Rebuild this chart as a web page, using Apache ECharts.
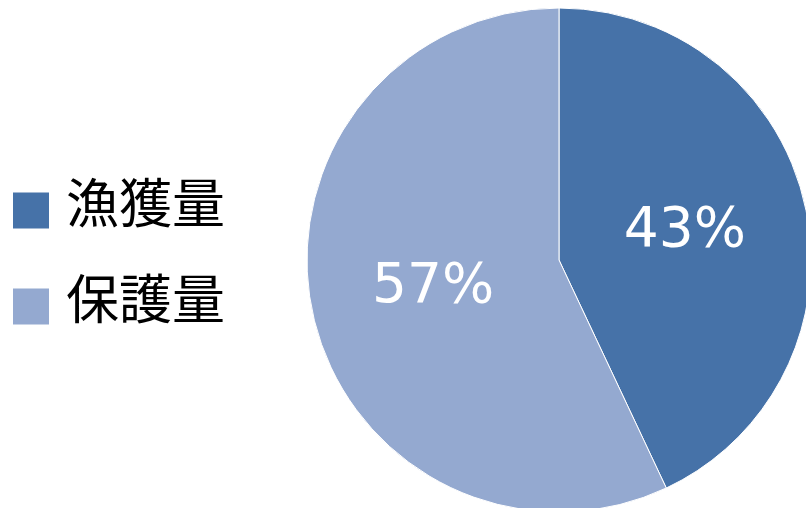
<!DOCTYPE html>
<html>
<head>
<meta charset="utf-8">
<script src="https://cdn.jsdelivr.net/npm/echarts@6/dist/echarts.min.js"></script>
<style>
  html, body { margin: 0; padding: 0; background: #ffffff; }
  #chart { width: 806px; height: 508px; }
</style>
</head>
<body>
<div id="chart"></div>
<script>
// Share of catch vs. protected amount
const categories = ['漁獲量', '保護量'];
const values = [43, 57];
const colors = ['#4672A8', '#94A9D0'];

const chart = echarts.init(document.getElementById('chart'), null, { renderer: 'canvas' });

chart.setOption({
  animation: false,
  color: colors,
  legend: {
    orient: 'vertical',
    left: 13,
    top: 176,
    padding: 0,
    itemWidth: 36,
    itemHeight: 36,
    itemGap: 43,
    icon: 'rect',
    itemStyle: { borderWidth: 0 },
    formatter: '{t|{name}}',
    textStyle: {
      fontSize: 53,
      color: '#000000',
      fontFamily: '"Noto Sans CJK JP", sans-serif',
      rich: {
        t: {
          fontSize: 53,
          color: '#000000',
          fontFamily: '"Noto Sans CJK JP", sans-serif',
          padding: [0, 0, 16, 12]
        }
      }
    },
    data: categories
  },
  series: [{
    type: 'pie',
    center: [559, 260],
    radius: 252,
    startAngle: 90,
    clockwise: true,
    silent: true,
    itemStyle: { borderColor: '#ffffff', borderWidth: 1 },
    label: {
      position: 'inside',
      formatter: '{c}%',
      color: '#ffffff',
      fontSize: 55,
      fontFamily: '"DejaVu Sans", sans-serif'
    },
    labelLine: { show: false },
    data: categories.map((name, i) => ({ name, value: values[i] }))
  }]
});
</script>
</body>
</html>
